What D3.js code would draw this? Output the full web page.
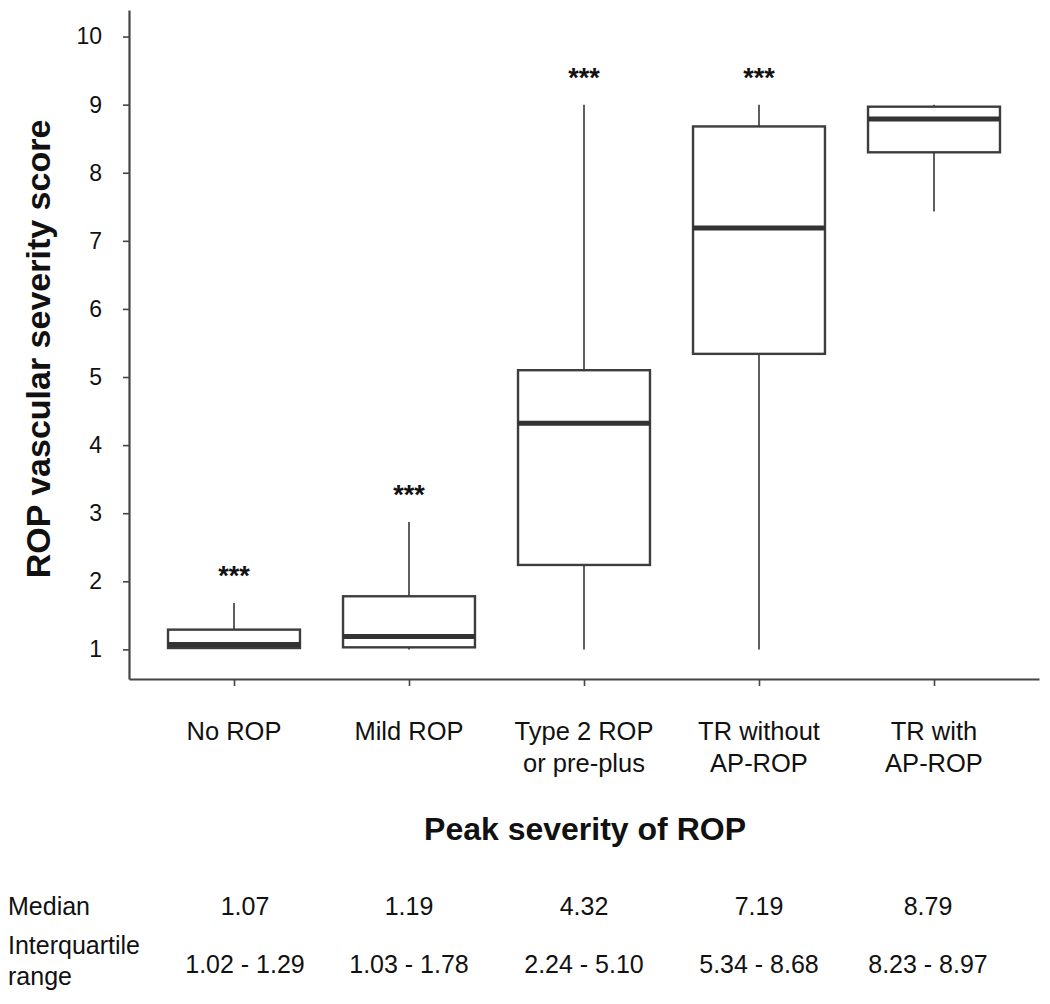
<!DOCTYPE html>
<html><head><meta charset="utf-8">
<script src="https://cdn.jsdelivr.net/npm/d3@7"></script>
<style>
body{margin:0;background:#fff}
text{font-family:"Liberation Sans",Arial,Helvetica,sans-serif;fill:#111}
</style>
</head><body>
<svg id="c" width="1050" height="1004"></svg>
<script>
// ---- data ----
const categories = ["No ROP", "Mild ROP", "Type 2 ROP\nor pre-plus", "TR without\nAP-ROP", "TR with\nAP-ROP"];
const whiskerLow  = [1.02, 1.00, 1.00, 1.00, 7.43];
const q1          = [1.02, 1.03, 2.24, 5.34, 8.30];
const median      = [1.07, 1.19, 4.32, 7.19, 8.79];
const q3          = [1.29, 1.78, 5.10, 8.68, 8.97];
const whiskerHigh = [1.68, 2.87, 9.00, 9.00, 9.00];
const significance = ["***", "***", "***", "***", ""];
const yTicks = [1, 2, 3, 4, 5, 6, 7, 8, 9, 10];
const medianLabels = ["1.07", "1.19", "4.32", "7.19", "8.79"];
const iqrLabels = ["1.02 - 1.29", "1.03 - 1.78", "2.24 - 5.10", "5.34 - 8.68", "8.23 - 8.97"];

// ---- layout ----
const svg = d3.select("#c");
svg.append("rect").attr("width", 1050).attr("height", 1004).attr("fill", "#fff");

const plotLeft = 129, plotRight = 1039, plotTop = 10, plotBottom = 679;
const x = d3.scalePoint().domain(categories).range([plotLeft, plotRight]).padding(0.6);
const y = d3.scaleLinear().domain([0.565, 10.39]).range([plotBottom, plotTop]);
const boxW = x.step() * 0.754;
const axisColor = "#444";

const rows = categories.map((c, i) => ({c, lo: whiskerLow[i], q1: q1[i], med: median[i], q3: q3[i], hi: whiskerHigh[i], sig: significance[i]}));

// y axis
const yAxis = svg.append("g").attr("transform", `translate(${plotLeft},0)`)
  .call(d3.axisLeft(y).tickValues(yTicks).tickSize(6).tickSizeOuter(0).tickPadding(21).tickFormat(d3.format("d")));
yAxis.select(".domain").attr("stroke", axisColor).attr("stroke-width", 2.2);
yAxis.selectAll(".tick line").attr("stroke", axisColor).attr("stroke-width", 1.6);
yAxis.selectAll(".tick text").attr("font-size", 23).attr("fill", "#111")
  .style("font-family", '"Liberation Sans",Arial,sans-serif');

// x axis
const xAxis = svg.append("g").attr("transform", `translate(0,${plotBottom})`)
  .call(d3.axisBottom(x).tickSize(7).tickSizeOuter(0).tickFormat(""));
xAxis.select(".domain").attr("stroke", axisColor).attr("stroke-width", 2.2);
xAxis.selectAll(".tick line").attr("stroke", axisColor).attr("stroke-width", 1.6);

// boxes
const g = svg.append("g");
const b = g.selectAll("g.box").data(rows).join("g").attr("class", "box");
b.append("line").attr("x1", d => x(d.c)).attr("x2", d => x(d.c))
  .attr("y1", d => y(d.q3)).attr("y2", d => y(d.hi)).attr("stroke", "#5f5f5f").attr("stroke-width", 2);
b.append("line").attr("x1", d => x(d.c)).attr("x2", d => x(d.c))
  .attr("y1", d => y(d.q1)).attr("y2", d => y(d.lo)).attr("stroke", "#5f5f5f").attr("stroke-width", 2);
b.append("rect").attr("x", d => x(d.c) - boxW / 2).attr("width", boxW)
  .attr("y", d => y(d.q3)).attr("height", d => y(d.q1) - y(d.q3))
  .attr("fill", "#fff").attr("stroke", "#3d3d3d").attr("stroke-width", 2.4);
b.append("line").attr("x1", d => x(d.c) - boxW / 2).attr("x2", d => x(d.c) + boxW / 2)
  .attr("y1", d => y(d.med)).attr("y2", d => y(d.med)).attr("stroke", "#333").attr("stroke-width", 5);
b.append("text").attr("x", d => x(d.c)).attr("y", d => y(d.hi) - 18)
  .attr("text-anchor", "middle").attr("font-size", 27).attr("font-weight", "bold").text(d => d.sig);

// category labels
const cl = svg.append("g").selectAll("text").data(categories).join("text")
  .attr("x", d => x(d)).attr("y", 740).attr("text-anchor", "middle").attr("font-size", 25.5);
cl.each(function(d) {
  const t = d3.select(this);
  d.split("\n").forEach((line, i) => {
    t.append("tspan").attr("x", x(d)).attr("y", 740 + i * 31.5).text(line);
  });
});

// axis titles
svg.append("text").attr("x", 585).attr("y", 840).attr("text-anchor", "middle")
  .attr("font-size", 32).attr("font-weight", "bold").text("Peak severity of ROP");
svg.append("text").attr("transform", "translate(50,349) rotate(-90)").attr("text-anchor", "middle")
  .attr("font-size", 34).attr("font-weight", "bold").text("ROP vascular severity score");

// table
const tableShift = [11, 0, 0, 0, -6];
svg.append("text").attr("x", 8).attr("y", 915).attr("font-size", 25).text("Median");
svg.append("text").attr("x", 8).attr("y", 954).attr("font-size", 25).text("Interquartile");
svg.append("text").attr("x", 8).attr("y", 985).attr("font-size", 25).text("range");
svg.append("g").selectAll("text").data(medianLabels).join("text")
  .attr("x", (d, i) => x(categories[i]) + tableShift[i]).attr("y", 915)
  .attr("text-anchor", "middle").attr("font-size", 25).text(d => d);
svg.append("g").selectAll("text").data(iqrLabels).join("text")
  .attr("x", (d, i) => x(categories[i]) + tableShift[i]).attr("y", 973)
  .attr("text-anchor", "middle").attr("font-size", 25).text(d => d);
</script>
</body></html>
